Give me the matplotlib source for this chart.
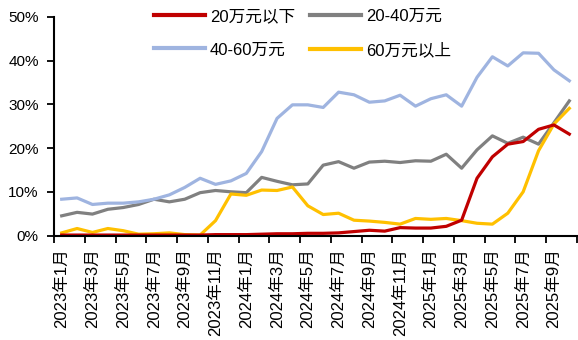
import matplotlib
matplotlib.use("Agg")
import matplotlib.pyplot as plt
import numpy as np
from matplotlib.ticker import FuncFormatter, FixedLocator

plt.rcParams['font.family'] = ['Liberation Sans', 'Noto Sans CJK SC', 'DejaVu Sans']

# monthly share by price band, 2023-01 .. 2025-10
months = [f"{y}年{m}月" for y in (2023, 2024, 2025) for m in range(1, 13)][:34]

below_20 = [0.1, 0.1, 0.1, 0.1, 0.1, 0.1, 0.1, 0.1, 0.1, 0.1, 0.2, 0.2,
            0.2, 0.3, 0.4, 0.4, 0.5, 0.5, 0.6, 0.9, 1.2, 1.0, 1.8, 1.7,
            1.7, 2.1, 3.5, 13.1, 18.0, 20.9, 21.5, 24.3, 25.3, 23.2]
band_20_40 = [4.5, 5.3, 4.9, 6.0, 6.4, 7.1, 8.3, 7.7, 8.3, 9.8, 10.3, 10.0,
              9.8, 13.3, 12.4, 11.6, 11.8, 16.1, 16.9, 15.4, 16.8, 17.0, 16.7, 17.1,
              17.0, 18.6, 15.4, 19.6, 22.8, 21.1, 22.5, 20.9, 25.8, 30.8]
band_40_60 = [8.3, 8.6, 7.1, 7.4, 7.4, 7.7, 8.3, 9.3, 11.0, 13.1, 11.7, 12.5,
              14.2, 19.2, 26.8, 29.9, 29.9, 29.3, 32.8, 32.2, 30.5, 30.8, 32.1, 29.6,
              31.3, 32.2, 29.6, 36.2, 40.9, 38.8, 41.8, 41.7, 37.9, 35.4]
above_60 = [0.6, 1.6, 0.7, 1.6, 1.1, 0.3, 0.4, 0.6, 0.2, 0.1, 3.4, 9.5,
            9.2, 10.4, 10.3, 11.1, 6.8, 4.8, 5.1, 3.5, 3.3, 3.0, 2.6, 3.9,
            3.7, 3.9, 3.4, 2.8, 2.6, 5.1, 10.0, 19.4, 25.5, 29.1]

x = np.arange(len(months))

fig = plt.figure(figsize=(5.78, 3.4), dpi=100)
ax = fig.add_axes([54 / 578, 104.5 / 340, 523 / 578, 218.5 / 340])

lw = 2.3
l_red, = ax.plot(x, below_20, color='#C00000', lw=lw, label='20万元以下')
l_gray, = ax.plot(x, band_20_40, color='#808080', lw=lw, label='20-40万元')
l_blue, = ax.plot(x, band_40_60, color='#9FB4E0', lw=lw, label='40-60万元')
l_yel, = ax.plot(x, above_60, color='#FFC000', lw=lw, label='60万元以上')
# keep the red series drawn on top where lines cross near zero
l_red.set_zorder(3)

ax.set_xlim(-0.5, len(months) - 0.5)
ax.set_ylim(0, 50)
ax.yaxis.set_major_locator(FixedLocator([0, 10, 20, 30, 40, 50]))
ax.yaxis.set_major_formatter(FuncFormatter(lambda v, p: f"{v:.0f}%"))

# labels on every other month, tick marks on the category boundaries
ax.set_xticks(x[::2])
ax.set_xticklabels(months[::2], rotation=90, fontsize=12)
ax.set_xticks(np.arange(-0.5, len(months), 2), minor=True)
ax.tick_params(axis='x', which='major', length=0, pad=9)
ax.tick_params(axis='x', which='minor', length=5, width=1.3, direction='out')
ax.tick_params(axis='y', length=5, width=1.3, direction='out', pad=6, labelsize=11)

for side in ('top', 'right'):
    ax.spines[side].set_visible(False)
for side in ('left', 'bottom'):
    ax.spines[side].set_linewidth(1.5)
ax.spines['bottom'].set_zorder(5)

leg = fig.legend([l_red, l_blue, l_gray, l_yel],
                 ['20万元以下', '40-60万元', '20-40万元', '60万元以上'],
                 ncol=2, loc='upper left', bbox_to_anchor=(139 / 578, 1.0 + 6 / 340),
                 frameon=False, handlelength=3.05, handletextpad=0.3,
                 columnspacing=0.9, labelspacing=1.1,
                 prop={'family': ['Liberation Sans', 'Noto Sans CJK SC'], 'size': 12})
for line in leg.get_lines():
    line.set_linewidth(3)

fig.savefig('out.png', dpi=100)
